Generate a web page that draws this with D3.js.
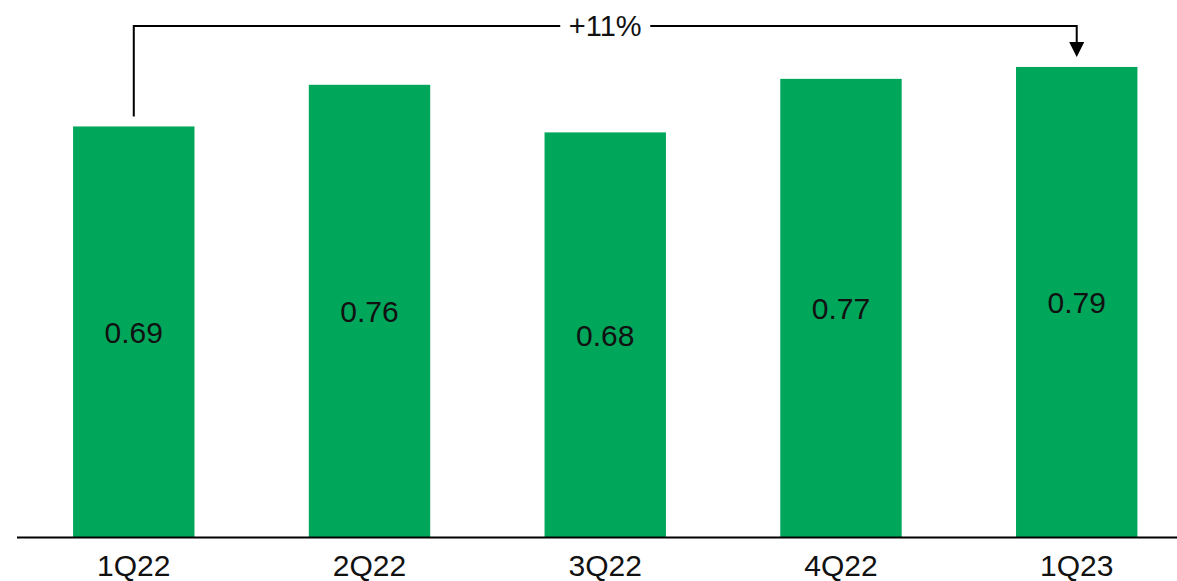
<!DOCTYPE html>
<html>
<head>
<meta charset="utf-8">
<script src="https://cdn.jsdelivr.net/npm/d3@7"></script>
<style>
  body { margin: 0; background: #fff; }
  svg { display: block; font-family: "Liberation Sans", Arial, sans-serif; }
</style>
</head>
<body>
<svg width="1177" height="581"></svg>
<script>
var quarters = ['1Q22', '2Q22', '3Q22', '4Q22', '1Q23'];
var values = [0.69, 0.76, 0.68, 0.77, 0.79];
var valueLabels = ['0.69', '0.76', '0.68', '0.77', '0.79'];
var growthLabel = '+11%';

var svg = d3.select('svg');
var green = '#00a65a';
var baseY = 537;

var x = d3.scaleBand()
    .domain(quarters)
    .range([16.5, 1194])
    .paddingInner(0.485)
    .paddingOuter(0.24);

var y = d3.scaleLinear()
    .domain([0, 1])
    .range([baseY, baseY - 595]);

svg.selectAll('rect.bar')
  .data(values)
  .enter()
  .append('rect')
  .attr('class', 'bar')
  .attr('x', function(d, i){ return x(quarters[i]); })
  .attr('y', function(d){ return y(d); })
  .attr('width', x.bandwidth())
  .attr('height', function(d){ return y(0) - y(d); })
  .attr('fill', green);

svg.selectAll('text.val')
  .data(values)
  .enter()
  .append('text')
  .attr('class', 'val')
  .attr('x', function(d, i){ return x(quarters[i]) + x.bandwidth() / 2; })
  .attr('y', function(d){ return (y(d) + y(0)) / 2; })
  .attr('dy', '0.36em')
  .attr('text-anchor', 'middle')
  .attr('font-size', 30)
  .attr('fill', '#111')
  .text(function(d, i){ return valueLabels[i]; });

// axis
var axis = d3.axisBottom(x).tickSize(0).tickPadding(18);
var gx = svg.append('g')
  .attr('transform', 'translate(0,' + baseY + ')')
  .call(axis);
gx.select('.domain').remove();
gx.selectAll('text')
  .attr('font-size', 30)
  .attr('font-family', '"Liberation Sans", Arial, sans-serif')
  .attr('fill', '#111');
svg.append('line')
  .attr('x1', 17).attr('x2', 1177)
  .attr('y1', baseY + 0.5).attr('y2', baseY + 0.5)
  .attr('stroke', '#000')
  .attr('stroke-width', 2);

// growth bracket
var first = quarters[0], last = quarters[quarters.length - 1];
var x0 = x(first) + x.bandwidth() / 2;
var x1 = x(last) + x.bandwidth() / 2;
var topY = 26;
var midX = (x(quarters[2]) + x.bandwidth() / 2);

svg.append('path')
  .attr('d', 'M' + x0 + ',' + (y(values[0]) - 10) + 'V' + topY + 'H' + (midX - 45))
  .attr('fill', 'none')
  .attr('stroke', '#000')
  .attr('stroke-width', 2);
svg.append('path')
  .attr('d', 'M' + (midX + 45) + ',' + topY + 'H' + x1 + 'V' + 44)
  .attr('fill', 'none')
  .attr('stroke', '#000')
  .attr('stroke-width', 2);
svg.append('path')
  .attr('d', 'M' + (x1 - 7.5) + ',42L' + (x1 + 7.5) + ',42L' + x1 + ',57Z')
  .attr('fill', '#000');

svg.append('text')
  .attr('x', midX)
  .attr('y', topY)
  .attr('dy', '0.36em')
  .attr('text-anchor', 'middle')
  .attr('font-size', 29)
  .attr('fill', '#111')
  .text(growthLabel);
</script>
</body>
</html>
